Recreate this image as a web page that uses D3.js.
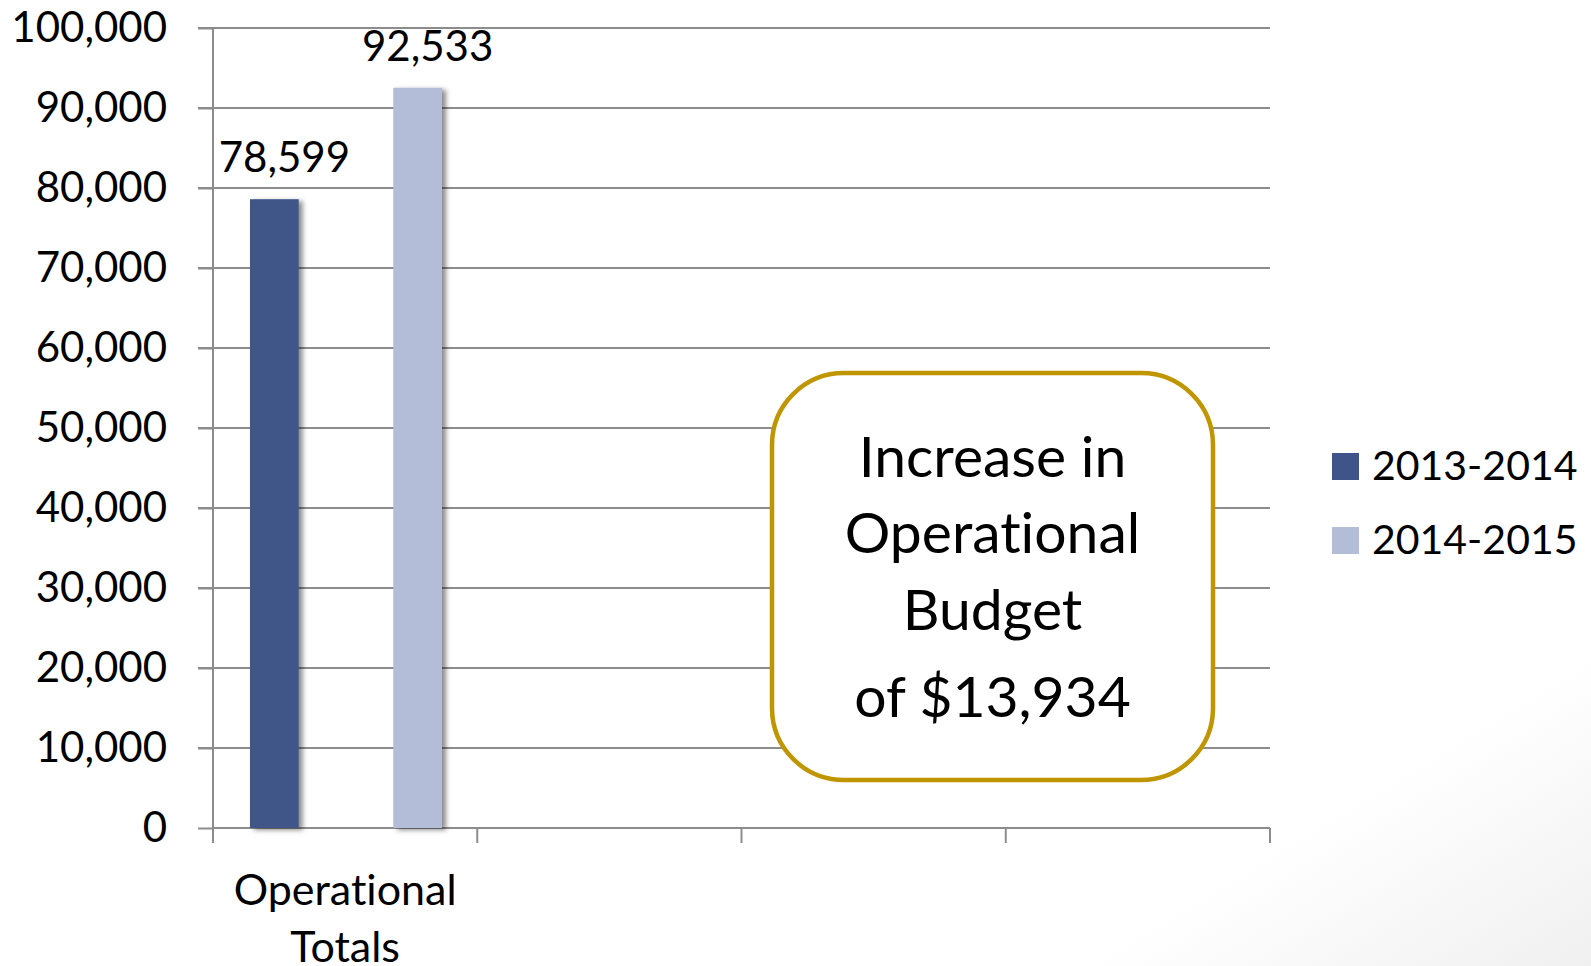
<!DOCTYPE html>
<html>
<head>
<meta charset="utf-8">
<script src="https://cdn.jsdelivr.net/npm/d3@7"></script>
<style>
	body { margin: 0; background: #fff; }
	text { font-family: Lato, "Open Sans", sans-serif; fill: #000; font-variant-ligatures: none; font-feature-settings: "liga" 0; }
</style>
</head>
<body>
<div id="chart"></div>
<script>
// data
var categories = ["Operational Totals", "c2", "c3", "c4"];
var seriesNames = ["2013-2014", "2014-2015"];
var seriesValues = [78599, 92533];
var seriesColors = ["#3F5488", "#B4BDD8"];
var yTicks = [0, 10000, 20000, 30000, 40000, 50000, 60000, 70000, 80000, 90000, 100000];
var calloutLines = ["Increase in", "Operational", "Budget", "of $13,934"];

(function() {
	var width = 1591,
		height = 966;
	var margin = { left: 213, top: 28, right: 321, bottom: 138 };
	var innerW = width - margin.left - margin.right,
		innerH = height - margin.top - margin.bottom;

	var svg = d3.select("#chart")
		.append("svg")
		.attr("width", width)
		.attr("height", height);

	var defs = svg.append("defs");

	// faint grey sweep in the bottom right corner of the slide
	var grad = defs.append("linearGradient")
		.attr("id", "corner")
		.attr("x1", "0").attr("y1", "0")
		.attr("x2", "1").attr("y2", "1");
	grad.append("stop").attr("offset", "0.84").attr("stop-color", "#ffffff");
	grad.append("stop").attr("offset", "1").attr("stop-color", "#f0f0f0");
	svg.append("rect")
		.attr("width", width)
		.attr("height", height)
		.attr("fill", "url(#corner)");

	var shadow = defs.append("filter")
		.attr("id", "shadow")
		.attr("x", "-20%").attr("y", "-5%")
		.attr("width", "150%").attr("height", "110%");
	shadow.append("feDropShadow")
		.attr("dx", 4).attr("dy", 2)
		.attr("stdDeviation", 2.5)
		.attr("flood-color", "#000")
		.attr("flood-opacity", 0.45);

	var g = svg.append("g")
		.attr("transform", "translate(" + margin.left + "," + margin.top + ")");

	var x0 = d3.scaleBand().domain(categories).range([0, innerW]);
	var x1 = d3.scaleBand().domain(seriesNames)
		.range([37, 229])
		.paddingInner(0.66);
	var y = d3.scaleLinear().domain([0, 100000]).range([innerH, 0]);

	// gridlines
	g.selectAll(".grid")
		.data(yTicks.slice(1))
		.enter().append("line")
		.attr("class", "grid")
		.attr("x1", -15)
		.attr("x2", innerW)
		.attr("y1", function(d) { return y(d); })
		.attr("y2", function(d) { return y(d); })
		.attr("stroke", "#8c8c8c")
		.attr("stroke-width", 2);

	// y axis
	var yAxis = g.append("g")
		.call(d3.axisLeft(y).tickValues(yTicks).tickSize(15).tickFormat(d3.format(",")));
	yAxis.selectAll("line").attr("stroke", "#8c8c8c").attr("stroke-width", 2);
	yAxis.select(".domain").attr("stroke", "#8c8c8c").attr("stroke-width", 2)
		.attr("d", "M0," + innerH + "V0");
	yAxis.selectAll("text")
		.attr("x", -46)
		.style("font-size", "42px")
		.style("font-family", "Lato, sans-serif")
		.attr("fill", "#000");

	// x axis
	var xAxis = g.append("g")
		.attr("transform", "translate(0," + innerH + ")");
	xAxis.append("line")
		.attr("x1", 0).attr("x2", innerW)
		.attr("stroke", "#8c8c8c").attr("stroke-width", 2);
	xAxis.selectAll(".xtick")
		.data(d3.range(categories.length + 1))
		.enter().append("line")
		.attr("class", "xtick")
		.attr("x1", function(i) { return i * x0.step(); })
		.attr("x2", function(i) { return i * x0.step(); })
		.attr("y1", 0).attr("y2", 15)
		.attr("stroke", "#8c8c8c").attr("stroke-width", 2);

	var cx = x0(categories[0]) + x0.bandwidth() / 2;
	var catLabel = xAxis.append("text")
		.attr("text-anchor", "middle")
		.attr("x", cx)
		.style("font-size", "43px");
	catLabel.append("tspan").attr("x", cx).attr("y", 77).text("Operational");
	catLabel.append("tspan").attr("x", cx).attr("y", 134).text("Totals");

	// bars
	var barData = seriesNames.map(function(s, i) {
		return { series: s, value: seriesValues[i], color: seriesColors[i] };
	});

	g.selectAll(".bar")
		.data(barData)
		.enter().append("rect")
		.attr("class", "bar")
		.attr("x", function(d) { return x0(categories[0]) + x1(d.series); })
		.attr("width", x1.bandwidth())
		.attr("y", function(d) { return y(d.value); })
		.attr("height", function(d) { return innerH - y(d.value); })
		.attr("fill", function(d) { return d.color; })
		.attr("filter", "url(#shadow)");

	g.selectAll(".label")
		.data(barData)
		.enter().append("text")
		.attr("class", "label")
		.attr("text-anchor", "middle")
		.attr("x", function(d) { return x0(categories[0]) + x1(d.series) + x1.bandwidth() / 2 + 10; })
		.attr("y", function(d) { return y(d.value) - 27; })
		.style("font-size", "42px")
		.text(function(d) { return d3.format(",")(d.value); });

	// callout box
	var box = { x: 772, y: 373, w: 441, h: 407 };
	svg.append("rect")
		.attr("x", box.x).attr("y", box.y)
		.attr("width", box.w).attr("height", box.h)
		.attr("rx", 72).attr("ry", 72)
		.attr("fill", "#fff")
		.attr("stroke", "#BF9500")
		.attr("stroke-width", 4.5);

	svg.selectAll(".callout")
		.data(calloutLines)
		.enter().append("text")
		.attr("class", "callout")
		.attr("text-anchor", "middle")
		.attr("x", box.x + box.w / 2)
		.attr("y", function(d, i) { return [477, 553, 630, 717][i]; })
		.style("font-size", "57px")
		.text(function(d) { return d; });

	// legend
	var legend = svg.selectAll(".legend")
		.data(barData)
		.enter().append("g")
		.attr("class", "legend")
		.attr("transform", function(d, i) { return "translate(1332," + (453 + i * 74) + ")"; });
	legend.append("rect")
		.attr("width", 27).attr("height", 27)
		.attr("fill", function(d) { return d.color; });
	legend.append("text")
		.attr("x", 40).attr("y", 27)
		.style("font-size", "41px")
		.text(function(d) { return d.series; });
})();
</script>
</body>
</html>
